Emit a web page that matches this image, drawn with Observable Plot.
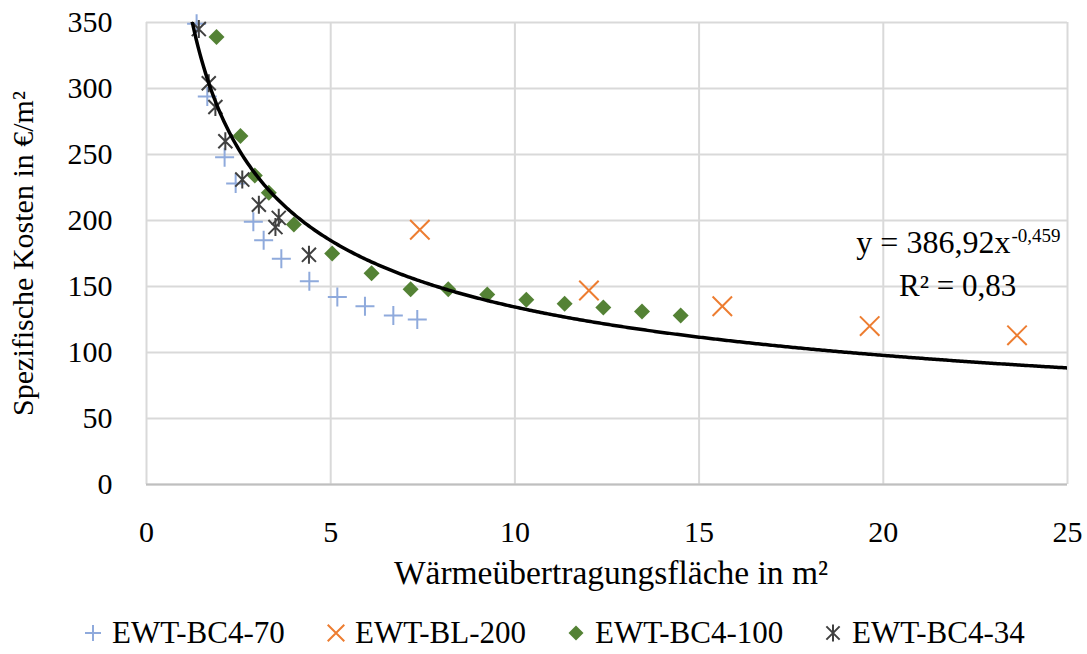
<!DOCTYPE html>
<html>
<head>
<meta charset="utf-8">
<script src="https://cdn.jsdelivr.net/npm/d3@7"></script>
<script src="https://cdn.jsdelivr.net/npm/@observablehq/plot@0.6"></script>
<style>
  html, body { margin: 0; padding: 0; background: #fff; }
  #wrap { width: 1087px; height: 654px; position: relative; font-family: "Liberation Serif", "Times New Roman", "DejaVu Serif", serif; }
  #legend { position: relative; height: 42px; font-size: 31px; color: #000; }
  .item { position: absolute; top: 0; display: flex; align-items: center; height: 42px; white-space: nowrap; }
  .item svg { margin-right: 9px; }
</style>
</head>
<body>
<div id="wrap"><div id="chart"></div><div id="legend"></div></div>
<script>
// ---- data ----
const seriesNames = ["EWT-BC4-70", "EWT-BL-200", "EWT-BC4-100", "EWT-BC4-34"];
const seriesColors = ["#8faadc", "#ed7d31", "#548235", "#404040"];

const bc470X = [1.36, 1.65, 2.12, 2.42, 2.90, 3.18, 3.66, 4.42, 5.18, 5.93, 6.70, 7.35];
const bc470Y = [349, 294, 248, 228, 199, 185, 171, 154, 142, 135, 128, 125];

const bl200X = [7.42, 12.01, 15.63, 19.63, 23.63];
const bl200Y = [193, 147, 135, 120, 113];

const bc4100X = [1.90, 2.55, 2.94, 3.32, 4.00, 5.04, 6.11, 7.17, 8.19, 9.25, 10.31, 11.35, 12.40, 13.45, 14.50];
const bc4100Y = [339, 264, 234, 221, 197, 175, 160, 148, 148, 144, 140, 137, 134, 131, 128];

const bc434X = [1.42, 1.69, 1.87, 2.14, 2.60, 3.05, 3.50, 3.59, 4.41];
const bc434Y = [345, 304, 286, 260, 231, 212, 195, 202, 174];

// trend line printed on the chart: y = 386,92 x^-0,459
const trendA = 386.92;
const trendB = -0.459;
const trendLabel = "y = 386,92x";
const trendExpLabel = "-0,459";
const r2Label = "R² = 0,83";

const xTicks = [0, 5, 10, 15, 20, 25];
const yTicks = [0, 50, 100, 150, 200, 250, 300, 350];
const xLabel = "Wärmeübertragungsfläche in m²";
const yLabel = "Spezifische Kosten in €/m²";

// ---- build ----
const toRows = (xs, ys, s) => xs.map((x, i) => ({x, y: ys[i], s}));
const seriesRows = [
  toRows(bc470X, bc470Y, seriesNames[0]),
  toRows(bl200X, bl200Y, seriesNames[1]),
  toRows(bc4100X, bc4100Y, seriesNames[2]),
  toRows(bc434X, bc434Y, seriesNames[3])
];

const trendX = d3.range(1.2, 25.0001, 0.05);
const trendRows = trendX.map(x => ({x, y: trendA * Math.pow(x, trendB)}));

const rad = size => Math.sqrt(size / Math.PI);
const plusSym = {draw(c, size) { const r = rad(size); c.moveTo(-r, 0); c.lineTo(r, 0); c.moveTo(0, -r); c.lineTo(0, r); }};
const timesSym = {draw(c, size) { const r = rad(size) * 0.72; c.moveTo(-r, -r); c.lineTo(r, r); c.moveTo(r, -r); c.lineTo(-r, r); }};
const diamondSym = {draw(c, size) { const r = rad(size); c.moveTo(0, -r); c.lineTo(r, 0); c.lineTo(0, r); c.lineTo(-r, 0); c.closePath(); }};
const starSym = {draw(c, size) { const r = rad(size); const q = r * 0.78; c.moveTo(0, -r); c.lineTo(0, r); c.moveTo(-q, -q); c.lineTo(q, q); c.moveTo(q, -q); c.lineTo(-q, q); }};
const symbols = [plusSym, timesSym, diamondSym, starSym];
const sizes = [9.5, 13.5, 8, 9];

const font = '"Liberation Serif", "Times New Roman", "DejaVu Serif", serif';

const chart = Plot.plot({
  width: 1087,
  height: 612,
  marginLeft: 146,
  marginRight: 20,
  marginTop: 22,
  marginBottom: 128,
  style: {fontFamily: font, fontSize: "30px", color: "#000", background: "#fff"},
  x: {domain: [0, 25]},
  y: {domain: [0, 350]},
  marks: [
    Plot.gridX(xTicks, {stroke: "#d9d9d9", strokeOpacity: 1, strokeWidth: 2}),
    Plot.gridY(yTicks, {stroke: "#d9d9d9", strokeOpacity: 1, strokeWidth: 2}),
    Plot.ruleY([0], {stroke: "#bfbfbf", strokeWidth: 2}),
    Plot.axisX(xTicks, {tickSize: 0, tickPadding: 36, label: null, tickFormat: d => String(d), fontFamily: font}),
    Plot.axisY(yTicks, {tickSize: 0, tickPadding: 34, label: null, tickFormat: d => String(d), fontFamily: font}),
    ...seriesRows.map((rows, i) => Plot.dot(rows, {
      x: "x", y: "y", symbol: () => symbols[i], r: sizes[i],
      stroke: i === 2 ? "none" : seriesColors[i],
      fill: i === 2 ? seriesColors[i] : "none",
      strokeWidth: 2
    })),
    Plot.line(trendRows, {x: "x", y: "y", stroke: "#000", strokeWidth: 3.5, clip: true}),
    Plot.text([trendLabel], {x: 23.45, y: 182.8, text: d => d, textAnchor: "end", fontSize: 32, fontFamily: font}),
    Plot.text([trendExpLabel], {x: 23.48, y: 188, text: d => d, textAnchor: "start", fontSize: 19, fontFamily: font}),
    Plot.text([r2Label], {x: 22.02, y: 150.6, text: d => d, textAnchor: "middle", fontSize: 31, fontFamily: font}),
    Plot.text([xLabel], {frameAnchor: "bottom", dy: 99, dx: 4, text: d => d, fontSize: 33.5, fontFamily: font}),
    Plot.text([yLabel], {frameAnchor: "left", dx: -123, rotate: -90, textAnchor: "middle", text: d => d, fontSize: 30, fontFamily: font})
  ]
});
document.getElementById("chart").appendChild(chart);

// ---- legend ----
const legendLeft = [83, 326, 566, 823];
const legend = d3.select("#legend");
seriesNames.forEach((name, i) => {
  const item = legend.append("div").attr("class", "item").style("left", legendLeft[i] + "px");
  const svg = item.append("svg").attr("width", 20).attr("height", 24).attr("viewBox", "-10 -12 20 24");
  const r = [8, 11.5, 7.5, 8.5][i];
  const p = d3.path();
  symbols[i].draw(p, r * r * Math.PI);
  svg.append("path").attr("d", p.toString())
    .attr("fill", i === 2 ? seriesColors[i] : "none")
    .attr("stroke", i === 2 ? "none" : seriesColors[i])
    .attr("stroke-width", 2);
  item.append("span").text(name);
});
</script>
</body>
